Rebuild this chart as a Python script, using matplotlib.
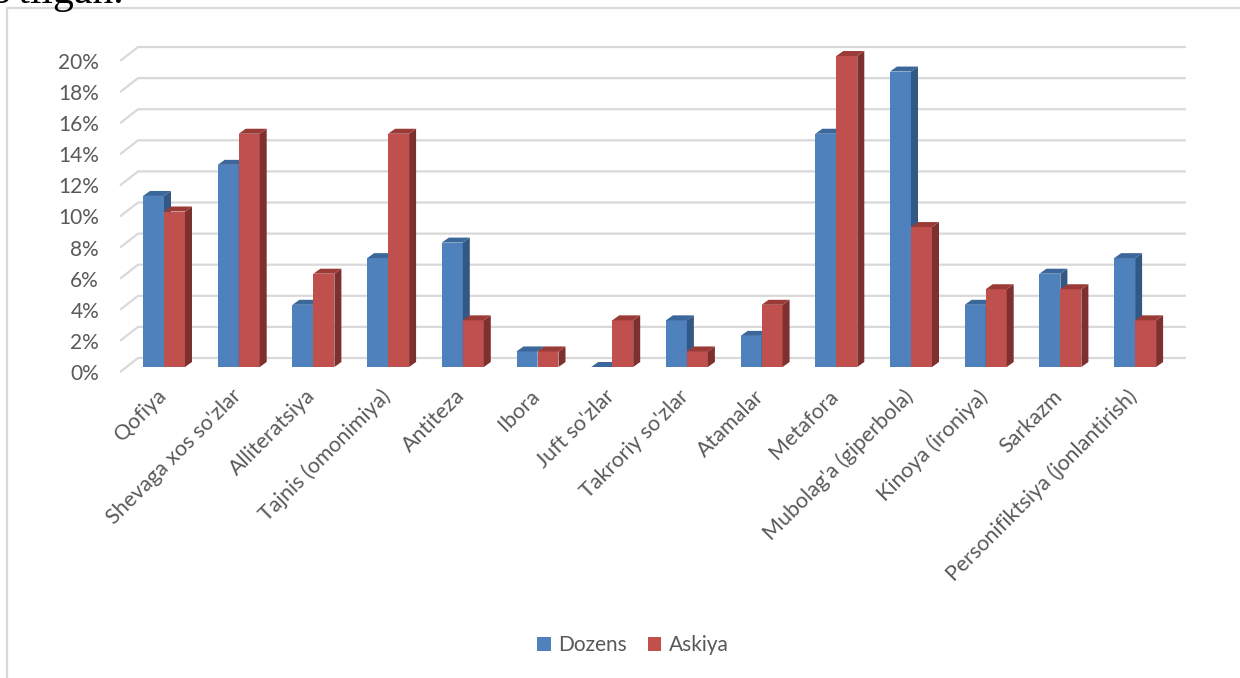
"""Pseudo-3D clustered column chart: Dozens vs Askiya stylistic devices."""

import matplotlib.pyplot as plt
from matplotlib.patches import Patch, Polygon, Rectangle

categories = [
    "Qofiya",
    "Shevaga xos so'zlar",
    "Alliteratsiya",
    "Tajnis (omonimiya)",
    "Antiteza",
    "Ibora",
    "Juft so'zlar",
    "Takroriy so'zlar",
    "Atamalar",
    "Metafora",
    "Mubolag'a (giperbola)",
    "Kinoya (ironiya)",
    "Sarkazm",
    "Personifiktsiya (jonlantirish)",
]
dozens = [11, 13, 4, 7, 8, 1, 0, 3, 2, 15, 19, 4, 6, 7]
askiya = [10, 15, 6, 15, 3, 1, 3, 1, 4, 20, 9, 5, 5, 3]
y_ticks = list(range(0, 21, 2))
series_names = ["Dozens", "Askiya"]

W, H = 1240, 678
TEXT = "#595959"
GRID = "#D9D9D9"
FONT = "Lato"
FS = 15

# front face / top / side colours per series
COLORS = {
    "Dozens": ("#4F81BD", "#3C679A", "#335885"),
    "Askiya": ("#C0504D", "#9B3B38", "#7E302E"),
}

fig = plt.figure(figsize=(W / 100, H / 100), dpi=100)
fig.patch.set_facecolor("white")

# axes box in pixels (front plane of the bars)
ax_left, ax_right = 126.65, 1172.45
ax_bottom_top = 367  # y of 0% from top
px_per_pct = 15.55
ax = fig.add_axes([
    ax_left / W,
    (H - ax_bottom_top) / H,
    (ax_right - ax_left) / W,
    20 * px_per_pct / H,
])
ax.set_xlim(-0.5, len(categories) - 0.5)
ax.set_ylim(0, 20)
ax.axis("off")

# pixel -> data scale factors
dx = (len(categories)) / (ax_right - ax_left)
dy = 20 / (20 * px_per_pct)

# --- back wall gridlines with floor diagonal ---
x_floor = -0.5 - 6.6 * dx
x_wall = -0.5 + 11.4 * dx
x_end = len(categories) - 0.5 + 13.5 * dx
for v in y_ticks:
    ax.plot(
        [x_floor, x_wall, x_end],
        [v - 5 * dy, v + 9 * dy, v + 9 * dy],
        color=GRID,
        linewidth=1.6,
        solid_capstyle="butt",
        zorder=1,
        clip_on=False,
    )
    ax.text(
        -0.5 - 27.6 * dx,
        v - 7 * dy,
        f"{v}%",
        ha="right",
        va="center",
        fontsize=FS,
        color=TEXT,
        family=FONT,
    )

# --- bars with depth faces ---
bw = 0.281
ox, oy = 7 * dx, 5 * dy
z = 2
for i in range(len(categories)):
    for name, vals, shift in ((series_names[0], dozens, -bw / 2), (series_names[1], askiya, bw / 2)):
        front, top, side = COLORS[name]
        v = vals[i]
        x0 = i + shift - bw / 2
        x1 = x0 + bw
        ax.add_patch(Rectangle((x0, 0), bw, v, facecolor=front, edgecolor="none", zorder=z, clip_on=False))
        ax.add_patch(Polygon(
            [(x1, 0), (x1 + ox, oy), (x1 + ox, v + oy), (x1, v)],
            facecolor=side, edgecolor="none", zorder=z, clip_on=False,
        ))
        ax.add_patch(Polygon(
            [(x0, v), (x1, v), (x1 + ox, v + oy), (x0 + ox, v + oy)],
            facecolor=top, edgecolor="none", zorder=z, clip_on=False,
        ))
        z += 1

# --- rotated category labels ---
for i, label in enumerate(categories):
    ax.text(
        i - 8 * dx,
        -19 * dy,
        label,
        rotation=45,
        rotation_mode="anchor",
        ha="right",
        va="top",
        fontsize=15.5,
        color=TEXT,
        family=FONT,
    )

# --- legend ---
handles = [Patch(facecolor=COLORS[n][0], edgecolor="none") for n in series_names]
fig.legend(
    handles,
    series_names,
    loc="center",
    bbox_to_anchor=(633 / W, 1 - 645 / H),
    ncol=2,
    frameon=False,
    handlelength=0.65,
    handleheight=0.65,
    handletextpad=0.35,
    columnspacing=1.0,
    prop={"family": FONT, "size": FS},
    labelcolor=TEXT,
)

# --- chart border (left and top edges visible) ---
fig.add_artist(Rectangle(
    (7 / W, -0.1), 1.0, (H - 8) / H + 0.1,
    transform=fig.transFigure, fill=False, edgecolor=GRID, linewidth=1.6,
))

# document text cut off at the top
fig.text(-10 / W, 1 - 3.5 / H, "o'tilgan.", family="Liberation Serif",
         fontsize=30, va="baseline", ha="left", color="black")

fig.savefig("out.png", dpi=100)
